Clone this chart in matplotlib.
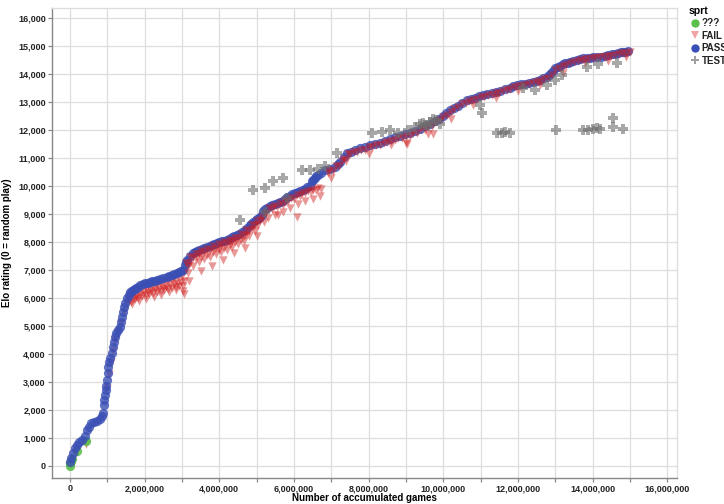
import numpy as np
import matplotlib
matplotlib.use('Agg')
import matplotlib.pyplot as plt
from matplotlib.ticker import MultipleLocator, FuncFormatter
from matplotlib.lines import Line2D

# 게임 수(백만 단위), Elo
pass_games = [0.00, 0.03, 0.08, 0.13, 0.19, 0.24, 0.32, 0.40, 0.46, 0.51, 0.56, 0.64, 0.72, 0.80,
              0.86, 0.88, 0.91, 0.91, 0.94, 0.96, 0.96, 0.99, 1.02, 1.02, 1.04, 1.07, 1.13, 1.15,
              1.18, 1.21, 1.23, 1.29, 1.34, 1.37, 1.39, 1.42, 1.45, 1.47, 1.53, 1.61, 1.69, 1.77,
              1.88, 2.01, 2.14, 2.28, 2.41, 2.60, 2.73, 2.87, 2.97, 3.03, 3.08, 3.11, 3.13, 3.21,
              3.29, 3.40, 3.54, 3.67, 3.80, 3.94, 4.07, 4.21, 4.34, 4.47, 4.61, 4.74, 4.82, 4.90,
              4.98, 5.06, 5.14, 5.17, 5.22, 5.36, 5.49, 5.63, 5.76, 5.89, 6.03, 6.16, 6.30, 6.43,
              6.48, 6.56, 6.64, 6.83, 7.10, 7.23, 7.34, 7.42, 7.63, 7.90, 8.17, 8.44, 8.71, 8.97,
              9.24, 9.51, 9.78, 9.99, 10.18, 10.39, 10.63, 10.85, 11.06, 11.30, 11.52, 11.79, 11.97,
              12.19, 12.40, 12.59, 12.78, 12.89, 12.99, 13.13, 13.26, 13.39, 13.58, 13.74, 13.93,
              14.12, 14.33, 14.52, 14.68, 14.81, 14.95,
              6.96, 7.17, 7.52, 7.77, 8.03, 8.30, 8.57, 8.84, 9.10, 9.37, 9.65, 9.89, 10.08, 10.28,
              10.51, 10.74, 10.95, 11.18, 11.41, 11.65, 11.88, 12.08, 12.30, 12.50, 12.68, 12.84,
              12.94, 13.06, 13.20, 13.33, 13.48, 13.66, 13.84, 14.02, 14.22, 14.42, 14.60, 14.75, 14.88,
              3.35, 3.47, 3.60, 3.74, 3.87, 4.00, 4.14, 4.27, 4.40, 4.54, 4.68, 4.86, 5.02, 5.10,
              5.29, 5.42, 5.56, 5.70, 5.82, 5.96, 6.10, 6.23, 6.36, 6.52, 6.60, 6.73,
              1.57, 1.65, 1.73, 1.82, 1.95, 2.08, 2.21, 2.34, 2.50, 2.66, 2.80, 2.92]
pass_elo = [143, 286, 464, 643, 750, 857, 929, 1071, 1286, 1393, 1536, 1571, 1607, 1679,
            1786, 1893, 2179, 2357, 2536, 2714, 2857, 3071, 3321, 3536, 3714, 3857, 4036, 4250,
            4429, 4607, 4750, 4857, 4964, 5143, 5321, 5500, 5679, 5821, 6000, 6214, 6286, 6357,
            6464, 6536, 6571, 6607, 6679, 6750, 6821, 6893, 6964, 7000, 7179, 7286, 7357, 7500,
            7607, 7679, 7750, 7821, 7893, 7964, 8036, 8071, 8179, 8250, 8357, 8500, 8607, 8714,
            8786, 8857, 8964, 9107, 9179, 9286, 9357, 9429, 9536, 9643, 9750, 9821, 9893, 10000,
            10179, 10286, 10393, 10571, 10679, 10857, 11036, 11179, 11286, 11393, 11500, 11607, 11750, 11857,
            11964, 12143, 12321, 12500, 12714, 12857, 13071, 13143, 13250, 13321, 13393, 13500, 13607,
            13643, 13714, 13786, 13893, 14036, 14214, 14286, 14393, 14429, 14500, 14571, 14571,
            14607, 14643, 14714, 14750, 14786, 14821,
            10620, 10770, 11230, 11340, 11450, 11550, 11680, 11800, 11910, 12050, 12230, 12410, 12600, 12790,
            12960, 13110, 13200, 13290, 13360, 13450, 13560, 13630, 13680, 13750, 13840, 13960,
            14120, 14250, 14340, 14410, 14470, 14540, 14570, 14590, 14620, 14680, 14730, 14770, 14800,
            7640, 7710, 7790, 7860, 7930, 8000, 8050, 8120, 8210, 8300, 8430, 8660, 8820, 8910,
            9230, 9320, 9390, 9480, 9590, 9700, 9790, 9860, 9950, 10230, 10340, 10480,
            6110, 6250, 6320, 6410, 6500, 6550, 6590, 6640, 6710, 6790, 6860, 6930]

fail_games = [0.15, 0.20, 0.38, 0.42, 1.00, 1.05, 1.10, 1.16, 1.22, 1.30, 1.38, 1.45, 1.52,
              1.60, 1.70, 1.80, 1.90, 2.00, 2.10, 2.20, 2.30, 2.40, 2.50, 2.60, 2.70, 2.80, 2.90, 3.00,
              1.58, 1.68, 1.78, 1.88, 1.98, 2.08, 2.18, 2.28, 2.38, 2.48, 2.58, 2.68, 2.78, 2.88, 2.98, 3.05,
              1.65, 1.85, 2.05, 2.25, 2.45, 2.65, 2.85, 3.02, 3.06,
              3.15, 3.30, 3.45, 3.60, 3.75, 3.90, 4.05, 4.20, 4.35, 4.50, 4.65, 4.80, 4.95, 5.10,
              3.15, 3.30, 3.45, 3.60, 3.75, 3.90, 4.05, 4.20, 4.35, 4.50, 4.65, 4.80, 4.95,
              3.20, 3.50, 3.80, 4.10, 4.40, 4.70, 5.00,
              5.25, 5.40, 5.55, 5.70, 5.85, 6.00, 6.15, 6.30, 6.45, 6.60, 6.72,
              5.30, 5.50, 5.70, 5.90, 6.10, 6.30, 6.50, 6.70, 5.57, 6.08, 5.20,
              6.90, 7.05, 7.20, 7.35, 7.50, 7.70, 7.90, 8.10, 8.30, 8.50, 8.70, 8.90, 9.10, 9.30,
              9.50, 9.70, 9.90, 10.10, 10.30, 10.50, 10.70, 10.90, 11.10, 11.30, 11.50, 11.70, 11.90,
              12.10, 12.30, 12.50, 12.70, 12.90, 13.10, 13.30, 13.50, 13.70, 13.90, 14.10, 14.30,
              14.50, 14.70, 14.90, 15.00,
              7.00, 7.40, 8.00, 8.60, 9.00, 9.60, 10.20, 10.80, 11.40, 12.00, 12.60, 13.20, 13.80,
              14.40, 14.90, 9.03, 9.72,
              1.55, 1.62, 1.72, 1.83, 1.95, 2.05, 2.15, 2.25, 2.35, 2.45, 2.55, 2.65, 2.75, 2.85, 2.95, 3.05,
              1.63, 1.73, 1.83, 1.93, 2.03, 2.13, 2.23, 2.33, 2.43, 2.53, 2.63, 2.73, 2.83, 2.93, 3.03,
              3.12, 3.22, 3.38, 3.52, 3.68, 3.82, 3.98, 4.12, 4.28, 4.42, 4.58, 4.72, 4.88, 5.02, 5.15,
              3.22, 3.38, 3.52, 3.68, 3.82, 3.98, 4.12, 4.28, 4.42, 4.58, 4.72, 4.88, 5.05,
              5.32, 5.47, 5.62, 5.77, 5.92, 6.07, 6.22, 6.37, 6.52, 6.65,
              6.95, 7.12, 7.28, 7.45, 7.60, 7.80, 8.00, 8.20, 8.40, 8.60, 8.80, 9.00, 9.20, 9.40,
              9.60, 9.80, 10.00, 10.20, 10.40, 10.60, 10.80, 11.00, 11.20, 11.40, 11.60, 11.80, 12.00,
              12.20, 12.40, 12.60, 12.80, 13.00, 13.20, 13.40, 13.60, 13.80, 14.00, 14.20, 14.40,
              14.60, 14.80]
fail_elo = [500, 600, 880, 800, 2800, 3300, 3700, 4100, 4500, 4800, 5100, 5500, 5800,
            6100, 6180, 6250, 6330, 6380, 6420, 6440, 6480, 6540, 6580, 6620, 6680, 6720, 6750, 6800,
            5900, 5980, 6050, 6120, 6170, 6210, 6240, 6290, 6330, 6370, 6400, 6460, 6500, 6530, 6580, 6620,
            5800, 5900, 5980, 6050, 6100, 6200, 6280, 6250, 6150,
            7150, 7450, 7560, 7640, 7720, 7800, 7880, 7950, 8050, 8130, 8230, 8400, 8600, 8780,
            6900, 7150, 7280, 7380, 7460, 7560, 7650, 7720, 7820, 7920, 8020, 8200, 8400,
            6600, 6950, 7150, 7350, 7600, 7800, 8200,
            9050, 9180, 9250, 9330, 9450, 9550, 9650, 9750, 9800, 9850, 9900,
            8850, 8980, 9080, 9200, 9350, 9450, 9550, 9650, 8950, 8900, 8700,
            10450, 10550, 10700, 10950, 11150, 11200, 11300, 11380, 11480, 11560, 11650, 11720, 11800, 11900,
            12000, 12150, 12350, 12550, 12750, 12920, 13050, 13120, 13180, 13260, 13330, 13420, 13520,
            13580, 13640, 13720, 13820, 13980, 14200, 14330, 14420, 14500, 14540, 14560, 14600,
            14650, 14700, 14760, 14800,
            10300, 10900, 11150, 11450, 11550, 11850, 12400, 12900, 13150, 13400, 13600, 14050, 14380,
            14450, 14600, 11500, 11850,
            5950, 6120, 6230, 6330, 6420, 6480, 6500, 6540, 6580, 6600, 6650, 6700, 6760, 6820, 6880, 6950,
            5870, 5950, 6000, 6080, 6100, 6130, 6170, 6200, 6250, 6280, 6320, 6350, 6400, 6420, 6420,
            7250, 7450, 7580, 7680, 7760, 7840, 7920, 8000, 8080, 8150, 8280, 8430, 8600, 8750, 8900,
            7250, 7380, 7450, 7550, 7640, 7720, 7790, 7900, 7990, 8080, 8250, 8450, 8600,
            9200, 9280, 9380, 9480, 9580, 9680, 9760, 9820, 9870, 9920,
            10560, 10720, 10880, 11150, 11230, 11300, 11380, 11450, 11540, 11620, 11720, 11800, 11900, 12020,
            12140, 12300, 12450, 12650, 12820, 12980, 13080, 13180, 13250, 13320, 13400, 13480, 13560,
            13600, 13680, 13760, 13850, 14150, 14280, 14400, 14470, 14530, 14560, 14590, 14630,
            14690, 14750]

test_games = [4.90, 5.22, 5.44, 5.71, 6.21, 6.43, 6.64, 6.83, 7.15, 5.22, 4.55, 5.81,
              8.09, 8.36, 8.57, 8.79, 9.05, 9.24, 9.38, 9.51, 9.64, 9.80, 9.91, 9.45, 9.58, 9.72,
              10.98, 11.04, 11.44, 11.57, 11.65, 11.79, 13.02, 13.74, 13.88, 14.01, 14.12, 14.20,
              14.55, 14.55, 14.81, 12.14, 12.46, 12.78, 12.99, 13.18, 13.85, 14.65, 14.14]
test_elo = [9857, 9929, 10179, 10286, 10571, 10571, 10607, 10714, 11179, 9071, 8786, 9571,
            11893, 11929, 12000, 11893, 12000, 12107, 12214, 12179, 12286, 12357, 12214, 12250, 12150, 12400,
            12893, 12607, 11893, 11893, 11929, 11893, 12000, 12000, 12000, 12036, 12071, 12036,
            12429, 12107, 12036, 13500, 13429, 13607, 13786, 13964, 14250, 14393, 14357]

unk_games = [0.00, 0.01, 0.02, 0.05, 0.19, 0.43]
unk_elo = [0, 100, 180, 250, 536, 893]

c_pass = '#3a4fb5'
c_fail = '#d01c1c'
c_unk = '#5cbf4b'
c_test = '#6e6e6e'


def main():
    plt.rcParams['font.family'] = ['Liberation Sans', 'DejaVu Sans']
    fig = plt.figure(figsize=(7.24, 5.04), dpi=100)
    ax = fig.add_axes([52 / 724, 26 / 504, 625 / 724, 470 / 504])

    fx = np.array(fail_games) * 1e6
    fy = np.array(fail_elo)
    early = fx < 3.1e6
    # 초반 FAIL은 PASS 아래, 이후는 위에 섞여 보이도록
    ax.scatter(fx[early], fy[early], marker='v', s=36, color=c_fail,
               alpha=0.45, linewidths=0, zorder=3)
    ax.scatter(np.array(unk_games) * 1e6, unk_elo, marker='o', s=44, color=c_unk,
               alpha=0.9, linewidths=0, zorder=4)
    ax.scatter(np.array(pass_games) * 1e6, pass_elo, marker='o', s=44, color=c_pass,
               alpha=0.8, linewidths=0, zorder=5)
    ax.scatter(fx[~early], fy[~early], marker='v', s=36, color=c_fail,
               alpha=0.45, linewidths=0, zorder=6)
    ax.scatter(np.array(test_games) * 1e6, test_elo, marker='P', s=50, color=c_test,
               alpha=0.6, linewidths=0, zorder=7)

    ax.set_xlim(-0.48e6, 16.26e6)
    ax.set_ylim(-429, 16357)

    ax.xaxis.set_major_locator(MultipleLocator(2e6))
    ax.xaxis.set_minor_locator(MultipleLocator(1e6))
    ax.yaxis.set_major_locator(MultipleLocator(1000))
    fmt = FuncFormatter(lambda v, p: f'{int(round(v)):,}')
    ax.xaxis.set_major_formatter(fmt)
    ax.yaxis.set_major_formatter(fmt)

    ax.grid(True, which='both', color='#dddddd', linewidth=0.9, zorder=0)
    ax.set_axisbelow(True)
    for s in ['top', 'right']:
        ax.spines[s].set_color('#dddddd')
        ax.spines[s].set_linewidth(0.9)
    for s in ['left', 'bottom']:
        ax.spines[s].set_color('#888888')
        ax.spines[s].set_linewidth(1.0)

    ax.tick_params(which='both', length=3, width=0.9, color='#888888', pad=1.5,
                   labelsize=6.5, labelcolor='#222222')
    for lab in ax.get_xticklabels() + ax.get_yticklabels():
        lab.set_fontweight('bold')

    ax.set_xlabel('Number of accumulated games', fontsize=7, fontweight='bold', labelpad=0)
    ax.set_ylabel('Elo rating (0 = random play)', fontsize=7, fontweight='bold', labelpad=4)

    handles = [
        Line2D([], [], marker='o', linestyle='', color=c_unk, markersize=6, markeredgewidth=0),
        Line2D([], [], marker='v', linestyle='', color='#f2a3a8', markersize=6, markeredgewidth=0),
        Line2D([], [], marker='o', linestyle='', color=c_pass, markersize=6, markeredgewidth=0),
        Line2D([], [], marker='P', linestyle='', color='#a0a0a0', markersize=6, markeredgewidth=0),
    ]
    leg = fig.legend(handles, ['???', 'FAIL', 'PASS', 'TEST'], title='sprt',
                     loc='upper left', bbox_to_anchor=(683 / 724, 1.0), frameon=False,
                     fontsize=7, title_fontsize=7.5, handletextpad=0.1, labelspacing=0.25,
                     borderaxespad=0.2, handlelength=1.2, alignment='left')
    leg.get_title().set_fontweight('bold')
    for t in leg.get_texts():
        t.set_fontweight('bold')
        t.set_color('#222222')

    fig.savefig('out.png', dpi=100)


if __name__ == "__main__":
    main()
